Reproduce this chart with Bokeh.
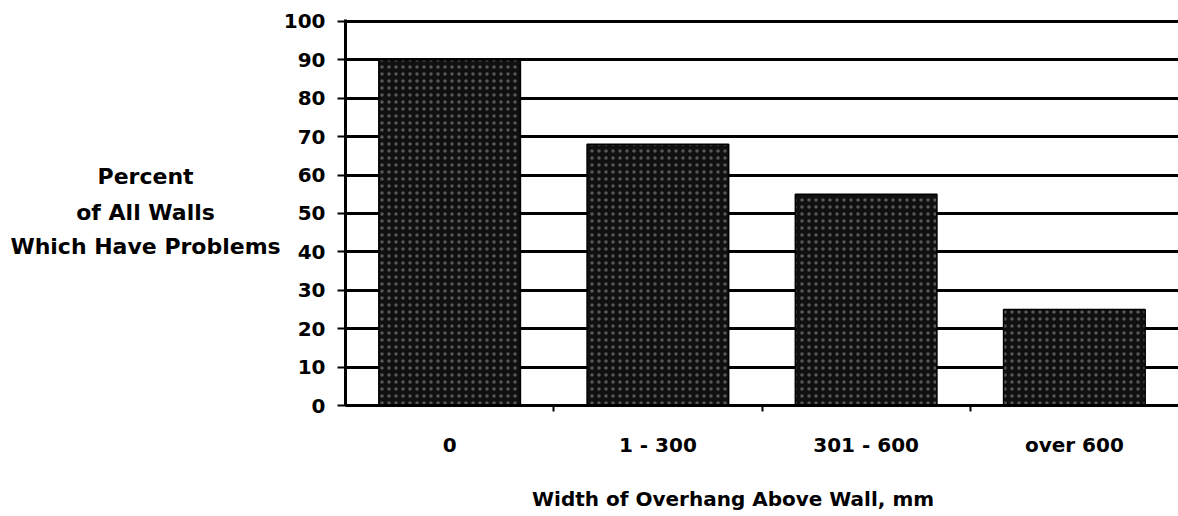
from bokeh.plotting import figure
from bokeh.models import Range1d, FixedTicker, ColumnDataSource
from bokeh.layouts import row, column
from bokeh.core.properties import value
from bokeh.embed import file_html
from bokeh.resources import INLINE

categories = ["0", "1 - 300", "301 - 600", "over 600"]
percent_with_problems = [90, 68, 55, 25]
y_ticks = [0, 10, 20, 30, 40, 50, 60, 70, 80, 90, 100]
y_label_lines = ["Percent", "of All Walls", "Which Have Problems"]
x_label = "Width of Overhang Above Wall, mm"

FONT = "DejaVu Sans"
LEFT_W = 280
TOTAL_W = 1178
TOTAL_H = 516
BOTTOM_H = 36
TOP_B = 19
MAIN_BOTTOM_B = 75

positions = [i + 0.5 for i in range(len(categories))]
boundaries = [i for i in range(1, len(categories))]

y_range = Range1d(0, 100.5)
x_range = Range1d(0, len(categories))

src = ColumnDataSource(dict(x=positions, top=percent_with_problems, cat=categories))

# ---------------- main chart ----------------
p = figure(width=TOTAL_W - LEFT_W, height=TOTAL_H - BOTTOM_H, output_backend="svg",
           toolbar_location=None, x_range=x_range, y_range=y_range,
           min_border_left=344 - LEFT_W, min_border_right=0, min_border_top=TOP_B,
           min_border_bottom=MAIN_BOTTOM_B)
p.outline_line_color = None

p.vbar(x="x", top="top", width=0.68, source=src, fill_color="#101010",
       line_color="black", line_width=1.5,
       hatch_pattern="dot", hatch_color="white", hatch_alpha=0.3,
       hatch_scale=7, hatch_weight=1)

p.xgrid.grid_line_color = None
p.ygrid.grid_line_color = "black"
p.ygrid.grid_line_width = 3
p.ygrid.ticker = FixedTicker(ticks=y_ticks)

ya = p.yaxis[0]
ya.ticker = FixedTicker(ticks=y_ticks)
ya.axis_line_width = 3
ya.axis_line_color = "black"
ya.major_tick_in = 7
ya.major_tick_out = 8
ya.major_tick_line_width = 2
ya.minor_tick_line_color = None
ya.major_label_standoff = 12
ya.major_label_text_font = FONT
ya.major_label_text_font_style = "bold"
ya.major_label_text_font_size = "20px"
ya.major_label_text_color = "black"

xa = p.xaxis[0]
xa.ticker = FixedTicker(ticks=positions, minor_ticks=boundaries)
xa.major_label_overrides = {pos: c for pos, c in zip(positions, categories)}
xa.axis_line_width = 3
xa.axis_line_color = "black"
xa.major_tick_line_color = None
xa.major_tick_in = 0
xa.major_tick_out = 0
xa.minor_tick_in = 0
xa.minor_tick_out = 6
xa.minor_tick_line_width = 2
xa.minor_tick_line_color = "black"
xa.major_label_standoff = 21
xa.major_label_text_font = FONT
xa.major_label_text_font_style = "bold"
xa.major_label_text_font_size = "20px"
xa.major_label_text_color = "black"

# ---------------- left panel: horizontal y-axis title ----------------
left = figure(width=LEFT_W, height=TOTAL_H, output_backend="svg", toolbar_location=None,
              x_range=Range1d(0, 1), y_range=y_range, x_axis_type=None, y_axis_type=None,
              min_border_left=0, min_border_right=0, min_border_top=TOP_B,
              min_border_bottom=TOTAL_H - 405)
left.outline_line_color = None
left.grid.visible = False
left.text(x=[0.518] * len(y_label_lines), y=[59.6, 50.2, 41.4], text=y_label_lines,
          text_font=value(FONT), text_font_style="bold", text_font_size="22px",
          text_align="center", text_baseline="middle", text_color="black")

# ---------------- bottom panel: x-axis title ----------------
bottom = figure(width=TOTAL_W - LEFT_W, height=BOTTOM_H, output_backend="svg",
                toolbar_location=None, x_range=x_range, y_range=Range1d(0, 1),
                x_axis_type=None, y_axis_type=None,
                min_border_left=344 - LEFT_W, min_border_right=0,
                min_border_top=0, min_border_bottom=0)
bottom.outline_line_color = None
bottom.grid.visible = False
bottom.text(x=[1.861], y=[0.5], text=[x_label],
            text_font=value(FONT), text_font_style="bold", text_font_size="20px",
            text_align="center", text_baseline="middle", text_color="black")

layout = row(left, column(p, bottom, spacing=0), spacing=0)

open("out.html", "w").write(file_html(layout, INLINE))
